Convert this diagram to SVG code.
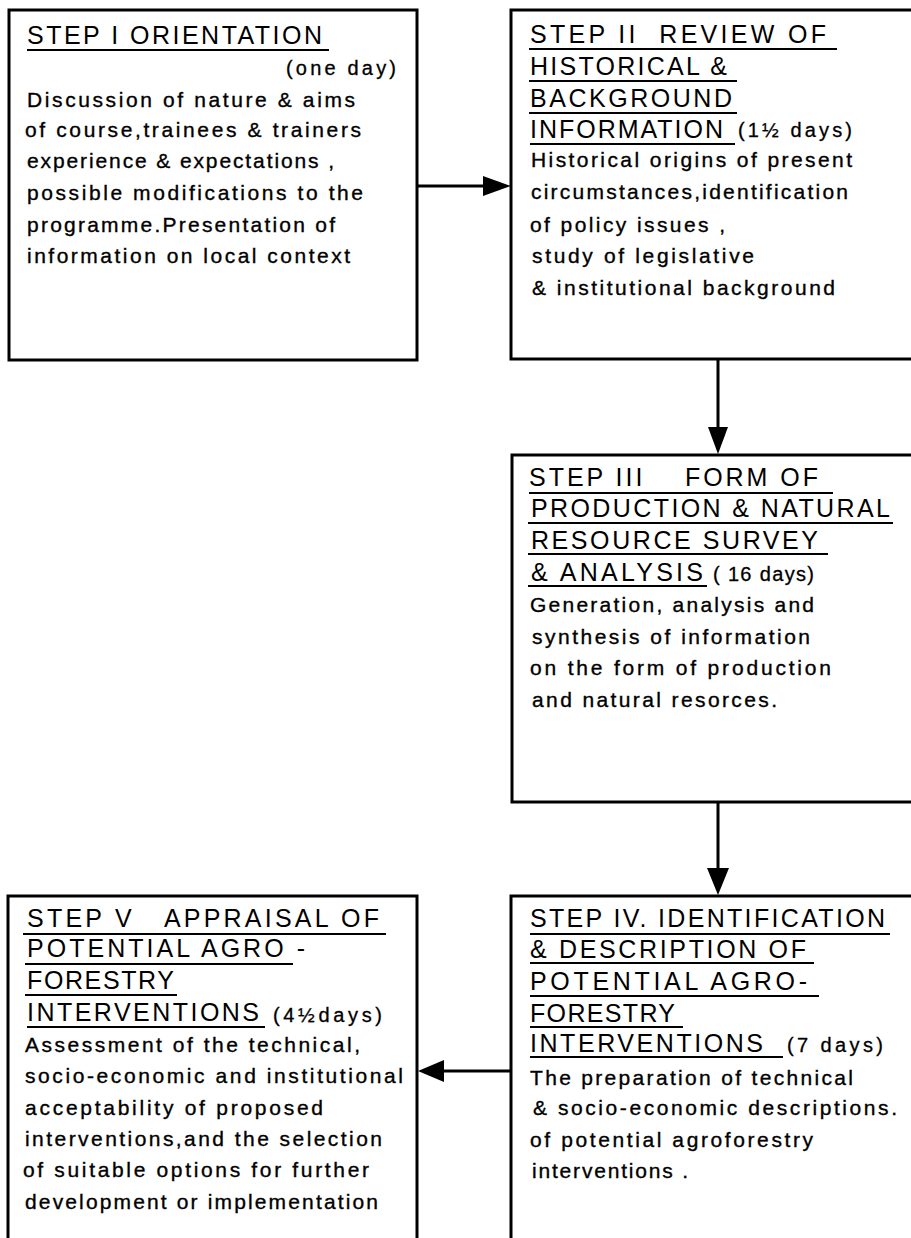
<svg xmlns="http://www.w3.org/2000/svg" width="911" height="1238" viewBox="0 0 911 1238">
<style>
.box{fill:#fff;stroke:#000;stroke-width:3}
.h{font-family:"Liberation Sans",Arial,sans-serif;font-size:25px;fill:#000}
.b{font-family:"Liberation Sans",Arial,sans-serif;font-size:21px;fill:#000;stroke:#000;stroke-width:0.35}
.d{font-family:"Liberation Sans",Arial,sans-serif;font-size:20px;fill:#000;stroke:#000;stroke-width:0.3}
.u{stroke:#000;stroke-width:1.8}
.c{stroke:#000;stroke-width:3;fill:none}
.ah{fill:#000}
</style>
<rect width="911" height="1238" fill="#fff"/>
<g id="step1">
<rect class="box" x="9" y="10" width="408" height="350"/>
<text class="h" x="27" y="44" textLength="295" lengthAdjust="spacing">STEP I ORIENTATION</text>
<line class="u" x1="27" y1="50" x2="329" y2="50"/>
<text class="d" x="286" y="75" textLength="110" lengthAdjust="spacing">(one day)</text>
<text class="b" x="27" y="107" textLength="328" lengthAdjust="spacing">Discussion of nature &amp; aims</text>
<text class="b" x="25" y="137" textLength="336" lengthAdjust="spacing">of course,trainees &amp; trainers</text>
<text class="b" x="27" y="168" textLength="307" lengthAdjust="spacing">experience &amp; expectations ,</text>
<text class="b" x="27" y="200" textLength="336" lengthAdjust="spacing">possible modifications to the</text>
<text class="b" x="27" y="232" textLength="308" lengthAdjust="spacing">programme.Presentation of</text>
<text class="b" x="27" y="263" textLength="323" lengthAdjust="spacing">information on local context</text>
</g>
<g id="step2">
<rect class="box" x="511" y="10" width="420" height="349"/>
<text class="h" x="530" y="43" textLength="296" lengthAdjust="spacing" xml:space="preserve">STEP II  REVIEW OF</text>
<line class="u" x1="529" y1="49" x2="837" y2="49"/>
<text class="h" x="530" y="75" textLength="197" lengthAdjust="spacing">HISTORICAL &amp;</text>
<line class="u" x1="529" y1="81" x2="737" y2="81"/>
<text class="h" x="530" y="107" textLength="202" lengthAdjust="spacing">BACKGROUND</text>
<line class="u" x1="529" y1="113" x2="737" y2="113"/>
<text class="h" x="530" y="138" textLength="193" lengthAdjust="spacing">INFORMATION</text>
<line class="u" x1="530" y1="144" x2="735" y2="144"/>
<text class="d" x="738" y="137" textLength="114" lengthAdjust="spacing">(1½ days)</text>
<text class="b" x="531" y="167" textLength="321" lengthAdjust="spacing">Historical origins of present</text>
<text class="b" x="531" y="199" textLength="317" lengthAdjust="spacing">circumstances,identification</text>
<text class="b" x="530" y="232" textLength="195" lengthAdjust="spacing">of policy issues ,</text>
<text class="b" x="532" y="263" textLength="222" lengthAdjust="spacing">study of legislative</text>
<text class="b" x="532" y="295" textLength="303" lengthAdjust="spacing">&amp; institutional background</text>
</g>
<g id="step3">
<rect class="box" x="512" y="455" width="420" height="347"/>
<text class="h" x="529" y="486" textLength="289" lengthAdjust="spacing" xml:space="preserve">STEP III    FORM OF</text>
<line class="u" x1="529" y1="493" x2="833" y2="493"/>
<text class="h" x="531" y="517" textLength="359" lengthAdjust="spacing">PRODUCTION &amp; NATURAL</text>
<line class="u" x1="528" y1="523" x2="893" y2="523"/>
<text class="h" x="531" y="549" textLength="287" lengthAdjust="spacing">RESOURCE SURVEY</text>
<line class="u" x1="528" y1="554" x2="828" y2="554"/>
<text class="h" x="531" y="581" textLength="172" lengthAdjust="spacing">&amp; ANALYSIS</text>
<line class="u" x1="528" y1="586" x2="707" y2="586"/>
<text class="d" x="713" y="581" textLength="101" lengthAdjust="spacing">( 16 days)</text>
<text class="b" x="530" y="612" textLength="284" lengthAdjust="spacing">Generation, analysis and</text>
<text class="b" x="532" y="644" textLength="278" lengthAdjust="spacing">synthesis of information</text>
<text class="b" x="530" y="675" textLength="301" lengthAdjust="spacing">on the form of production</text>
<text class="b" x="532" y="707" textLength="245" lengthAdjust="spacing">and natural resorces.</text>
</g>
<g id="step4">
<rect class="box" x="511" y="896" width="420" height="360"/>
<text class="h" x="530" y="927" textLength="355" lengthAdjust="spacing">STEP IV. IDENTIFICATION</text>
<line class="u" x1="530" y1="934" x2="890" y2="934"/>
<text class="h" x="530" y="958" textLength="276" lengthAdjust="spacing">&amp; DESCRIPTION OF</text>
<line class="u" x1="530" y1="963" x2="814" y2="963"/>
<text class="h" x="530" y="990" textLength="277" lengthAdjust="spacing">POTENTIAL AGRO-</text>
<line class="u" x1="530" y1="996" x2="819" y2="996"/>
<text class="h" x="530" y="1022" textLength="145" lengthAdjust="spacing">FORESTRY</text>
<line class="u" x1="530" y1="1027" x2="683" y2="1027"/>
<text class="h" x="530" y="1052" textLength="233" lengthAdjust="spacing">INTERVENTIONS</text>
<line class="u" x1="530" y1="1057" x2="783" y2="1057"/>
<text class="d" x="787" y="1052" textLength="96" lengthAdjust="spacing">(7 days)</text>
<text class="b" x="530" y="1085" textLength="323" lengthAdjust="spacing">The preparation of technical</text>
<text class="b" x="533" y="1115" textLength="364" lengthAdjust="spacing">&amp; socio-economic descriptions.</text>
<text class="b" x="530" y="1147" textLength="283" lengthAdjust="spacing">of potential agroforestry</text>
<text class="b" x="532" y="1178" textLength="156" lengthAdjust="spacing">interventions .</text>
</g>
<g id="step5">
<rect class="box" x="8" y="896" width="409" height="360"/>
<text class="h" x="27" y="927" textLength="352" lengthAdjust="spacing" xml:space="preserve">STEP V   APPRAISAL OF</text>
<line class="u" x1="23" y1="934" x2="386" y2="934"/>
<text class="h" x="27" y="957" textLength="278" lengthAdjust="spacing">POTENTIAL AGRO -</text>
<line class="u" x1="25" y1="964" x2="293" y2="964"/>
<text class="h" x="27" y="989" textLength="147" lengthAdjust="spacing">FORESTRY</text>
<line class="u" x1="25" y1="995" x2="177" y2="995"/>
<text class="h" x="27" y="1021" textLength="232" lengthAdjust="spacing">INTERVENTIONS</text>
<line class="u" x1="27" y1="1027" x2="265" y2="1027"/>
<text class="d" x="273" y="1022" textLength="109" lengthAdjust="spacing">(4½days)</text>
<text class="b" x="25" y="1052" textLength="335" lengthAdjust="spacing">Assessment of the technical,</text>
<text class="b" x="25" y="1083" textLength="378" lengthAdjust="spacing">socio-economic and institutional</text>
<text class="b" x="25" y="1115" textLength="298" lengthAdjust="spacing">acceptability of proposed</text>
<text class="b" x="25" y="1146" textLength="357" lengthAdjust="spacing">interventions,and the selection</text>
<text class="b" x="23" y="1177" textLength="346" lengthAdjust="spacing">of suitable options for further</text>
<text class="b" x="25" y="1209" textLength="353" lengthAdjust="spacing">development or implementation</text>
</g>
<g id="connectors">
<line class="c" x1="417" y1="186" x2="486" y2="186"/>
<polygon class="ah" points="483,176 511,186 483,196"/>
<line class="c" x1="718" y1="359" x2="718" y2="430"/>
<polygon class="ah" points="708,427 728,427 718,454"/>
<line class="c" x1="718" y1="802" x2="718" y2="871"/>
<polygon class="ah" points="707,868 729,868 718,895"/>
<line class="c" x1="511" y1="1071" x2="440" y2="1071"/>
<polygon class="ah" points="444,1060 444,1082 418,1071"/>
</g>
</svg>
